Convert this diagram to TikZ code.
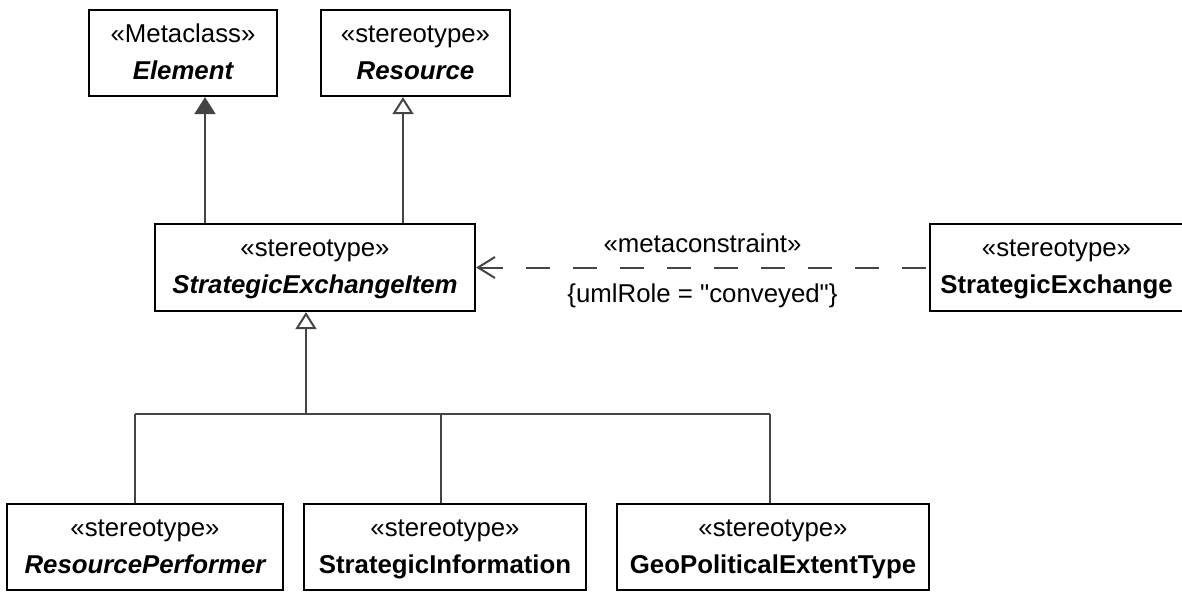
\documentclass[tikz,border=0pt]{standalone}
\usepackage{fontspec}
\setmainfont{Liberation Sans}
\newfontfamily\rawfont{Liberation Sans}[Ligatures=TeXOff]
\usetikzlibrary{arrows.meta}
\definecolor{conncol}{HTML}{444444}
\begin{document}
\begin{tikzpicture}[x=1pt,y=-1pt,
  umlbox/.style={draw=black, line width=2.2pt, fill=white, inner sep=0pt},
  conn/.style={draw=conncol, line width=2pt},
  lbl/.style={anchor=base, inner sep=0pt, font=\fontsize{25.8}{30}\selectfont},
  genfilled/.style={-{Triangle[length=17pt,width=21pt,fill=conncol]}},
  genopen/.style={-{Triangle[open,length=17pt,width=21pt,fill=white]}},
  depend/.style={{Straight Barb[length=17pt,width=21pt]}-, dash pattern=on 24pt off 23pt}
]
\useasboundingbox (0,0) rectangle (1182,592);

% boxes
\node[umlbox, minimum width=188pt, minimum height=86pt] (el) at (183,53) {};
\node[lbl] (els) at ([yshift=11pt]el.center) {«Metaclass»};
\node[lbl] (eln) at ([yshift=-26pt]el.center) {\bfseries\itshape Element};

\node[umlbox, minimum width=189pt, minimum height=86pt] (res) at (415.5,53) {};
\node[lbl] (ress) at ([yshift=11pt]res.center) {«stereotype»};
\node[lbl] (resn) at ([yshift=-26pt]res.center) {\bfseries\itshape Resource};

\node[umlbox, minimum width=320pt, minimum height=87pt] (sei) at (315,267.5) {};
\node[lbl] (seis) at ([yshift=11pt]sei.center) {«stereotype»};
\node[lbl] (sein) at ([yshift=-26pt]sei.center) {\bfseries\itshape StrategicExchangeItem};

\node[umlbox, minimum width=253pt, minimum height=87pt] (se) at (1056.5,267.5) {};
\node[lbl] (ses) at ([yshift=11pt]se.center) {«stereotype»};
\node[lbl] (sen) at ([yshift=-26pt]se.center) {\bfseries StrategicExchange};

\node[umlbox, minimum width=276pt, minimum height=86pt] (rp) at (145,547) {};
\node[lbl] (rps) at ([yshift=11pt]rp.center) {«stereotype»};
\node[lbl] (rpn) at ([yshift=-26pt]rp.center) {\bfseries\itshape ResourcePerformer};

\node[umlbox, minimum width=282pt, minimum height=86pt] (si) at (445,547) {};
\node[lbl] (sis) at ([yshift=11pt]si.center) {«stereotype»};
\node[lbl] (sin) at ([yshift=-26pt]si.center) {\bfseries StrategicInformation};

\node[umlbox, minimum width=312pt, minimum height=86pt] (gp) at (773,547) {};
\node[lbl] (gps) at ([yshift=11pt]gp.center) {«stereotype»};
\node[lbl] (gpn) at ([yshift=-26pt]gp.center) {\bfseries GeoPoliticalExtentType};

% helper coordinates
\coordinate (ax1) at (205,0);
\coordinate (ax2) at (403,0);
\coordinate (bar) at (306,414);
\coordinate (t1) at (135,414);
\coordinate (t2) at (441,414);
\coordinate (t3) at (770,414);

% generalizations
\draw[conn, genfilled] (sei.north -| ax1) -- (el.south -| ax1);
\draw[conn, genopen] (sei.north -| ax2) -- (res.south -| ax2);
\draw[conn, genopen] (bar) -- (sei.south -| bar);
\draw[conn] (t1) -- (t3);
\draw[conn] (t1) -- (rp.north -| t1);
\draw[conn] (t2) -- (si.north -| t2);
\draw[conn] (t3) -- (gp.north -| t3);

% dependency
\draw[conn, depend] (sei.east) -- (se.west);
\path (sei.east) -- (se.west) coordinate[pos=0.5] (mid);
\node[lbl] (mc) at ([yshift=15pt]mid) {«metaconstraint»};
\node[lbl] (ur) at ([yshift=-35pt]mid) {\rawfont\{umlRole = "conveyed"\}};
\end{tikzpicture}
\end{document}
